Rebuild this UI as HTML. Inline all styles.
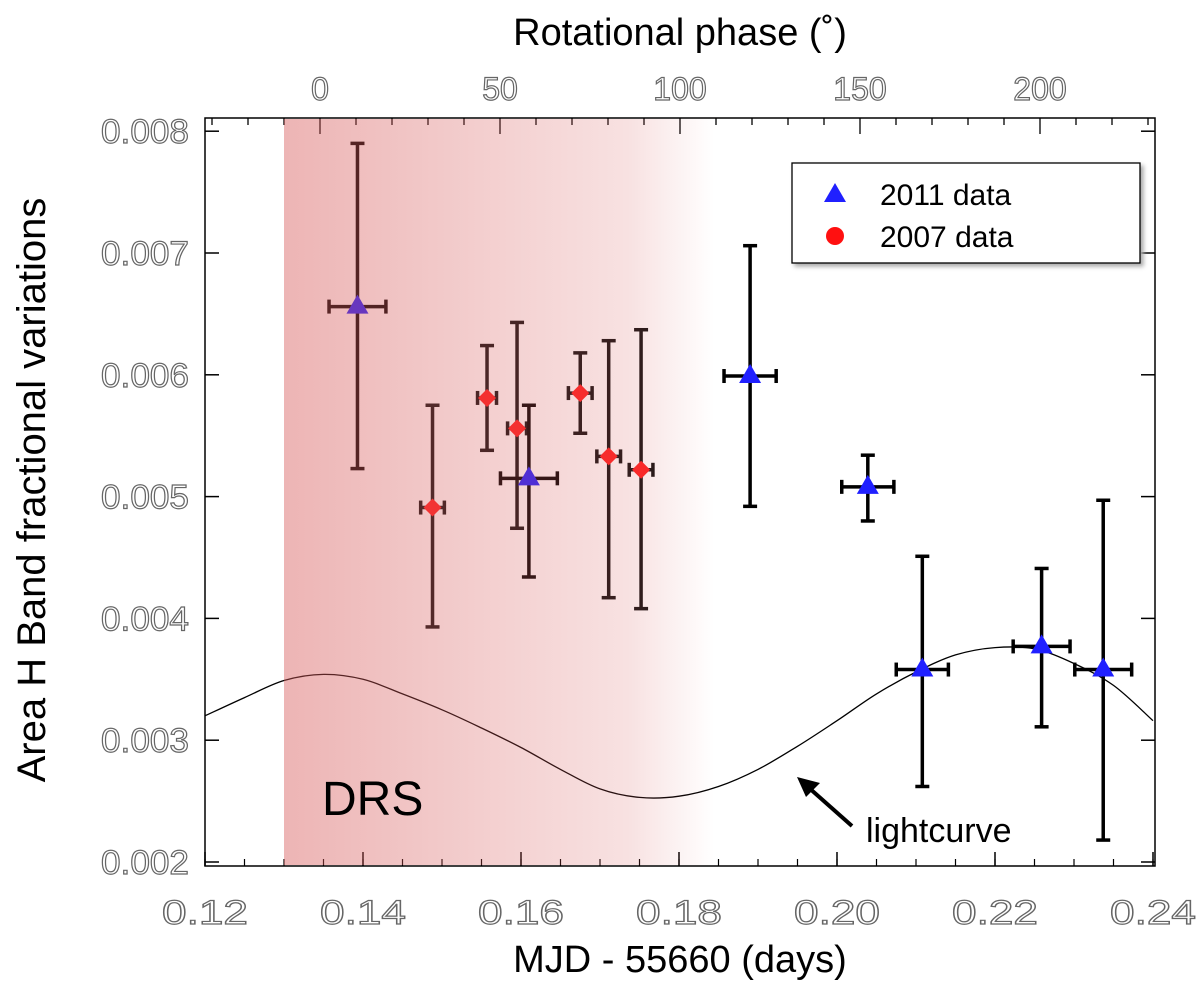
<!DOCTYPE html>
<html><head><meta charset="utf-8"><style>
body{margin:0;background:#fff;}
svg text{font-family:"Liberation Sans",sans-serif;}
</style></head><body>
<svg id="chart" width="1200" height="1000" xmlns="http://www.w3.org/2000/svg">
<defs>
<linearGradient id="drs" x1="0" x2="1" y1="0" y2="0">
<stop offset="0" stop-color="rgb(215,90,90)" stop-opacity="0.45"/>
<stop offset="0.8" stop-color="rgb(215,90,90)" stop-opacity="0.18"/>
<stop offset="1" stop-color="rgb(215,90,90)" stop-opacity="0"/>
</linearGradient>
</defs>
</svg>
<script>
const xTicks=[0.12,0.14,0.16,0.18,0.20,0.22,0.24];
const yTicks=[0.002,0.003,0.004,0.005,0.006,0.007,0.008];
const phaseTicks=[0,50,100,150,200];
const d11x=[0.1393,0.1610,0.1890,0.2039,0.2108,0.2259,0.2337];
const d11y=[0.00656,0.00515,0.00599,0.00508,0.00358,0.00377,0.00358];
const d11hi=[0.0079,0.00575,0.00706,0.00534,0.00451,0.00441,0.00497];
const d11lo=[0.00523,0.00434,0.00492,0.0048,0.00262,0.00311,0.00218];
const d11xe=[0.0036,0.0036,0.0033,0.0033,0.0033,0.0036,0.0036];
const d07x=[0.1488,0.1557,0.1595,0.1675,0.1711,0.1752];
const d07y=[0.00491,0.00581,0.00556,0.00585,0.00533,0.00522];
const d07hi=[0.00575,0.00624,0.00643,0.00618,0.00628,0.00637];
const d07lo=[0.00393,0.00538,0.00474,0.00552,0.00417,0.00408];
const d07xe=[0.0015,0.0012,0.0012,0.0015,0.0015,0.0015];
const lcX=[0.12,0.125,0.13,0.135,0.14,0.145,0.15,0.155,0.16,0.165,0.17,0.175,0.18,0.185,0.19,0.195,0.20,0.205,0.21,0.215,0.22,0.225,0.23,0.235,0.24];
const lcY=[0.00320,0.00335,0.00349,0.00354,0.00350,0.00338,0.00325,0.00310,0.00294,0.00276,0.00260,0.00253,0.00254,0.00262,0.00276,0.00295,0.00316,0.00338,0.00356,0.00370,0.00376,0.00375,0.00363,0.00345,0.00316];

const X=v=>205+(v-0.12)*7900;
const Y=v=>862-(v-0.002)*121800;
const P=p=>320+p*3.6;
const NS="http://www.w3.org/2000/svg";
const svg=document.getElementById('chart');
function mk(tag,attrs,parent){const e=document.createElementNS(NS,tag);for(const k in attrs)e.setAttribute(k,attrs[k]);(parent||svg).appendChild(e);return e;}

const frame=mk('rect',{x:205,y:118,width:950,height:748,fill:'none',stroke:'#000','stroke-width':1.5});



const lab={'font-size':34,fill:'#fff',stroke:'#666','stroke-width':1.2,'text-anchor':'middle'};
xTicks.forEach(t=>{
  const tk=mk('line',{x1:X(t),x2:X(t),y1:866,y2:852,stroke:'#000','stroke-width':1.5});
  
  
  const l=mk('text',Object.assign({},lab,{x:X(t),y:924,textLength:86,lengthAdjust:'spacingAndGlyphs'}));
  l.textContent=t.toFixed(2);
  
  
});
for(let t=0.12;t<0.2401;t+=0.005){
  const m=mk('line',{x1:X(t),x2:X(t),y1:866,y2:859,stroke:'#000','stroke-width':1.2});
  
  
}
yTicks.forEach(t=>{
  const tk=mk('line',{x1:205,x2:219,y1:Y(t),y2:Y(t),stroke:'#000','stroke-width':1.5});
  
  
  const tr=mk('line',{x1:1155,x2:1141,y1:Y(t),y2:Y(t),stroke:'#000','stroke-width':1.5});
  
  
  const l=mk('text',Object.assign({},lab,{x:145,y:Y(t)+12,textLength:88,lengthAdjust:'spacingAndGlyphs'}));
  l.textContent=t.toFixed(3);
  
  
});
for(let p=-30;p<=230;p+=10){
  if(P(p)<206||P(p)>1154)continue;
  const major=p%50===0;
  const m=mk('line',{x1:P(p),x2:P(p),y1:118,y2:major?134:125,stroke:'#000','stroke-width':1.3});
  
  
}
phaseTicks.forEach(t=>{
  const l=mk('text',Object.assign({},lab,{x:P(t),y:100,'font-size':32}));
  l.textContent=t;
  
  
});

// smooth lightcurve (Catmull-Rom)
const pts=lcX.map((v,i)=>[X(v),Y(lcY[i])]);
let d='M'+pts[0][0]+','+pts[0][1];
for(let i=0;i<pts.length-1;i++){
  const p0=pts[Math.max(0,i-1)],p1=pts[i],p2=pts[i+1],p3=pts[Math.min(pts.length-1,i+2)];
  const c1=[p1[0]+(p2[0]-p0[0])/6,p1[1]+(p2[1]-p0[1])/6];
  const c2=[p2[0]-(p3[0]-p1[0])/6,p2[1]-(p3[1]-p1[1])/6];
  d+=`C${c1[0].toFixed(1)},${c1[1].toFixed(1)} ${c2[0].toFixed(1)},${c2[1].toFixed(1)} ${p2[0].toFixed(1)},${p2[1].toFixed(1)}`;
}
const lc=mk('path',{d:d,fill:'none',stroke:'#000','stroke-width':1.3});



function errbar(x,y,hi,lo,xe,col,w,cap){
  const g=mk('g',{stroke:col,'stroke-width':w,fill:'none'});
  mk('line',{x1:X(x),x2:X(x),y1:Y(hi),y2:Y(lo)},g);
  mk('line',{x1:X(x)-cap,x2:X(x)+cap,y1:Y(hi),y2:Y(hi)},g);
  mk('line',{x1:X(x)-cap,x2:X(x)+cap,y1:Y(lo),y2:Y(lo)},g);
  mk('line',{x1:X(x-xe),x2:X(x+xe),y1:Y(y),y2:Y(y)},g);
  mk('line',{x1:X(x-xe),x2:X(x-xe),y1:Y(y)-7,y2:Y(y)+7},g);
  mk('line',{x1:X(x+xe),x2:X(x+xe),y1:Y(y)-7,y2:Y(y)+7},g);
  return g;
}
d07x.forEach((x,i)=>{
  const g=errbar(x,d07y[i],d07hi[i],d07lo[i],d07xe[i],'#111',3.5,7);
  
  
  const cx=X(x),cy=Y(d07y[i]);
  const m=mk('polygon',{points:`${cx},${cy-9} ${cx+9},${cy} ${cx},${cy+9} ${cx-9},${cy}`,fill:'#ff2020'});
  
  
});
d11x.forEach((x,i)=>{
  const g=errbar(x,d11y[i],d11hi[i],d11lo[i],d11xe[i],'#000',3.5,7);
  
  
  const cx=X(x),cy=Y(d11y[i]);
  const m=mk('polygon',{points:`${cx},${cy-12} ${cx+11},${cy+7} ${cx-11},${cy+7}`,fill:'#2020ff'});
  
  
});

const drs=mk('rect',{x:X(0.130),y:119,width:X(0.1845)-X(0.130),height:746,fill:'url(#drs)'});


</script>
<svg width="1200" height="1000" style="position:absolute;left:0;top:0" xmlns="http://www.w3.org/2000/svg">
<text x="322" y="815" font-size="48" font-family="Liberation Sans,sans-serif" fill="#000">DRS</text>
<text x="866" y="842" font-size="34" font-family="Liberation Sans,sans-serif" fill="#000">lightcurve</text>
<line x1="852" y1="826" x2="808" y2="787" stroke="#000" stroke-width="4"/>
<polygon points="797,777 820,783 806,797" fill="#000"/>
<g>
<rect x="792" y="163" width="348" height="100" fill="#fff" stroke="#000" stroke-width="1.3" style="filter:drop-shadow(3px 3px 2px #aaa)"/>
<polygon points="835,183 846,202 824,202" fill="#2020ff"/>
<text x="880" y="205" font-size="30" font-family="Liberation Sans,sans-serif">2011 data</text>
<circle cx="835" cy="236" r="9" fill="#ff1010"/>
<text x="880" y="247" font-size="30" font-family="Liberation Sans,sans-serif">2007 data</text>
</g>
<text x="680" y="45" text-anchor="middle" font-size="38" font-family="Liberation Sans,sans-serif">Rotational phase (˚)</text>
<text x="680" y="972" text-anchor="middle" font-size="38" font-family="Liberation Sans,sans-serif">MJD - 55660 (days)</text>
<text transform="translate(45,490) rotate(-90)" text-anchor="middle" font-size="40" font-family="Liberation Sans,sans-serif">Area H Band fractional variations</text>
</svg>
</body></html>
